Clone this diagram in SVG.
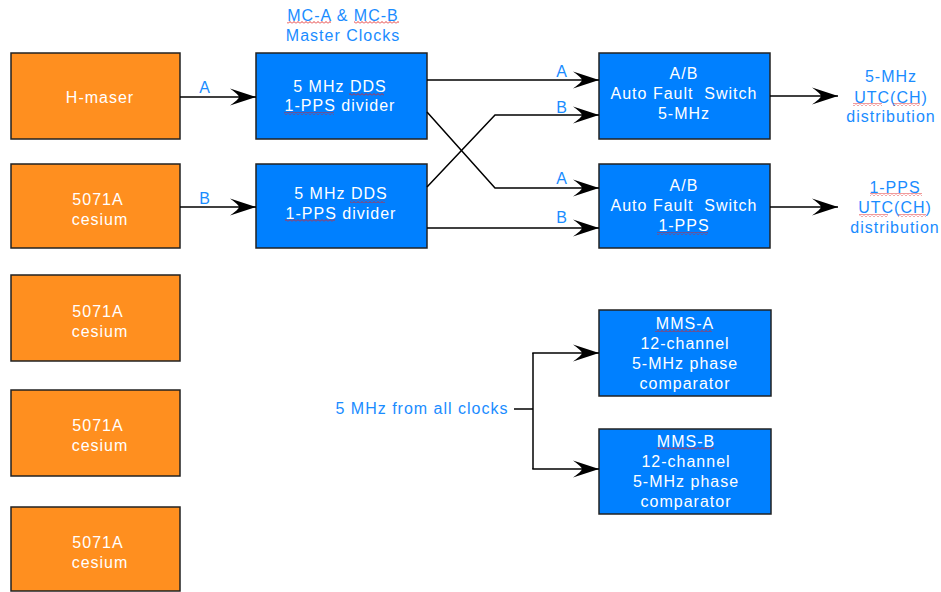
<svg xmlns="http://www.w3.org/2000/svg" width="941" height="592" viewBox="0 0 941 592">
<style>
text{font-family:"Liberation Sans",Arial,sans-serif;font-size:16px;letter-spacing:1px;text-anchor:middle}
.w{fill:#fff}
.b{fill:#1a8cff}
.org{fill:#ff8f1f;stroke:#222;stroke-width:1.5}
.blu{fill:#0080ff;stroke:#222;stroke-width:1.5}
.ln{fill:none;stroke:#000;stroke-width:1.5}
.sq{fill:url(#zz)}
</style>
<defs>
<marker id="ah" markerWidth="28" markerHeight="20" refX="27" refY="10" orient="auto" markerUnits="userSpaceOnUse">
<path d="M27,10 L1,1.5 Q10,8 10,10 Q10,12 1,18.5 Z" fill="#000"/>
</marker>
<pattern id="zz" width="4" height="3" patternUnits="userSpaceOnUse">
<polyline points="0,2.5 2,0.5 4,2.5" fill="none" stroke="#e02020" stroke-width="0.9"/>
</pattern>
</defs>

<g id="header">
<text class="b" x="343" y="21">MC-A &amp; MC-B</text>
<text class="b" x="343" y="41">Master Clocks</text>
<rect class="sq" x="287" y="21" width="44" height="3"/>
<rect class="sq" x="354" y="21" width="45" height="3"/>
</g>

<g id="hmaser"><rect class="org" x="11" y="53" width="169" height="86"/><text class="w" x="100" y="103">H-maser</text></g>
<g id="cs1"><rect class="org" x="11" y="164" width="169" height="84"/><text class="w" x="98" y="205">5071A</text><text class="w" x="100" y="225">cesium</text></g>
<g id="cs2"><rect class="org" x="11" y="275" width="169" height="86"/><text class="w" x="98" y="317">5071A</text><text class="w" x="100" y="337">cesium</text></g>
<g id="cs3"><rect class="org" x="11" y="390" width="169" height="86"/><text class="w" x="98" y="431">5071A</text><text class="w" x="100" y="451">cesium</text></g>
<g id="cs4"><rect class="org" x="11" y="507" width="169" height="84"/><text class="w" x="98" y="548">5071A</text><text class="w" x="100" y="568">cesium</text></g>

<g id="mca"><rect class="blu" x="256" y="53" width="171" height="86"/>
<text class="w" x="340" y="92">5 MHz DDS</text><text class="w" x="340" y="111">1-PPS divider</text>
<rect class="sq" x="349" y="93" width="35" height="3"/><rect class="sq" x="284" y="112" width="50" height="3"/></g>
<g id="mcb"><rect class="blu" x="256" y="164" width="171" height="84"/>
<text class="w" x="341" y="199">5 MHz DDS</text><text class="w" x="341" y="219">1-PPS divider</text>
<rect class="sq" x="350" y="200" width="35" height="3"/><rect class="sq" x="285" y="219" width="50" height="3"/></g>

<g id="sw5"><rect class="blu" x="599" y="53" width="171" height="86"/>
<text class="w" x="684" y="79">A/B</text><text class="w" x="684" y="99">Auto Fault&#160; Switch</text><text class="w" x="684" y="119">5-MHz</text></g>
<g id="swpps"><rect class="blu" x="599" y="164" width="171" height="84"/>
<text class="w" x="684" y="191">A/B</text><text class="w" x="684" y="211">Auto Fault&#160; Switch</text><text class="w" x="684" y="231">1-PPS</text>
<rect class="sq" x="657" y="232" width="51" height="3"/></g>

<g id="mmsa"><rect class="blu" x="599" y="310" width="172" height="86"/>
<text class="w" x="685" y="329">MMS-A</text><text class="w" x="685" y="349">12-channel</text><text class="w" x="685" y="369">5-MHz phase</text><text class="w" x="685" y="389">comparator</text>
<rect class="sq" x="655" y="329" width="57" height="3"/></g>
<g id="mmsb"><rect class="blu" x="599" y="429" width="172" height="85"/>
<text class="w" x="686" y="447">MMS-B</text><text class="w" x="686" y="467">12-channel</text><text class="w" x="686" y="487">5-MHz phase</text><text class="w" x="686" y="507">comparator</text>
<rect class="sq" x="657" y="447" width="57" height="3"/></g>

<g id="dist5">
<text class="b" x="891" y="82">5-MHz</text><text class="b" x="891" y="103">UTC(CH)</text><text class="b" x="891" y="122">distribution</text>
<rect class="sq" x="853" y="103" width="29" height="3"/><rect class="sq" x="893" y="103" width="27" height="3"/>
</g>
<g id="distpps">
<text class="b" x="895" y="193">1-PPS</text><text class="b" x="895" y="213">UTC(CH)</text><text class="b" x="895" y="233">distribution</text>
<rect class="sq" x="870" y="193" width="52" height="3"/><rect class="sq" x="859" y="214" width="29" height="3"/><rect class="sq" x="898" y="214" width="28" height="3"/>
</g>

<g id="src"><text class="b" x="422" y="414">5 MHz from all clocks</text></g>

<g id="connectors">
<line class="ln" x1="180" y1="97" x2="256" y2="97" marker-end="url(#ah)"/>
<line class="ln" x1="180" y1="207" x2="256" y2="207" marker-end="url(#ah)"/>
<line class="ln" x1="427" y1="80" x2="599" y2="80" marker-end="url(#ah)"/>
<polyline class="ln" points="427,112 495,188 599,188" marker-end="url(#ah)"/>
<polyline class="ln" points="427,187 495,115 599,115" marker-end="url(#ah)"/>
<line class="ln" x1="427" y1="228" x2="599" y2="228" marker-end="url(#ah)"/>
<line class="ln" x1="770" y1="96" x2="838" y2="96" marker-end="url(#ah)"/>
<line class="ln" x1="770" y1="207" x2="838" y2="207" marker-end="url(#ah)"/>
<line class="ln" x1="514" y1="409" x2="533" y2="409"/>
<line class="ln" x1="533" y1="353" x2="533" y2="469"/>
<line class="ln" x1="532.25" y1="353" x2="599" y2="353" marker-end="url(#ah)"/>
<line class="ln" x1="532.25" y1="469" x2="599" y2="469" marker-end="url(#ah)"/>
<text class="b" x="205" y="93">A</text>
<text class="b" x="205" y="204">B</text>
<text class="b" x="562" y="77">A</text>
<text class="b" x="562" y="113">B</text>
<text class="b" x="562" y="184">A</text>
<text class="b" x="562" y="223">B</text>
</g>
</svg>
